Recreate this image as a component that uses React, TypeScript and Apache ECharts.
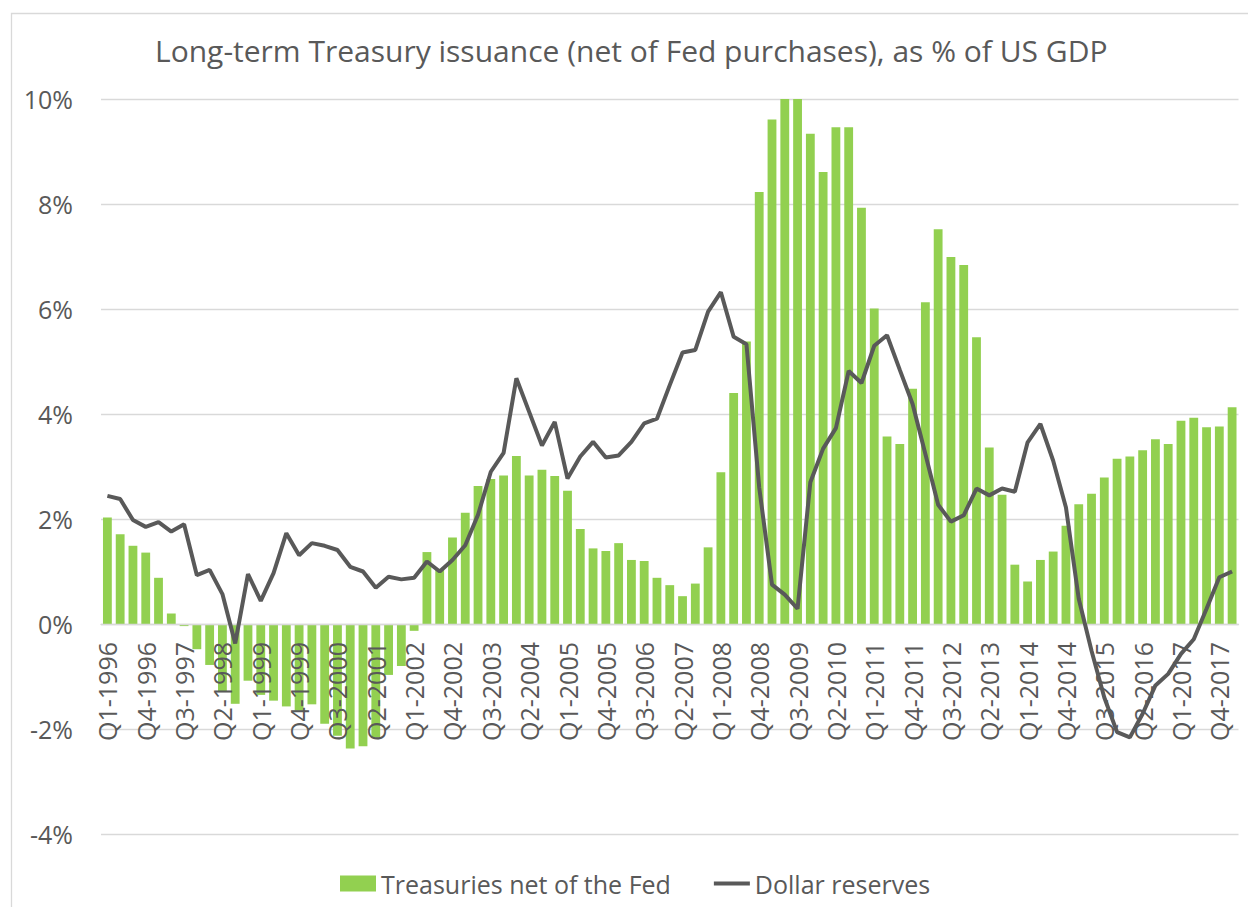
import React, { useEffect, useRef } from "react";
import * as echarts from "echarts";

const categories: string[] = [];
const years = [1996, 1997, 1998, 1999, 2000, 2001, 2002, 2003, 2004, 2005, 2006, 2007, 2008, 2009, 2010, 2011, 2012, 2013, 2014, 2015, 2016, 2017, 2018];
for (const y of years) {
  for (const q of [1, 2, 3, 4]) {
    if (y === 2018 && q > 1) break;
    categories.push(`Q${q}-${y}`);
  }
}

const treasuriesNetOfFed = [
  2.03, 1.71, 1.49, 1.36, 0.88, 0.2, -0.04, -0.48, -0.78, -1.28,
  -1.52, -1.08, -1.35, -1.46, -1.57, -1.65, -1.53, -1.9, -2.13, -2.37,
  -2.33, -2.16, -0.97, -0.8, -0.13, 1.37, 1.03, 1.65, 2.12, 2.63,
  2.76, 2.83, 3.2, 2.83, 2.94, 2.82, 2.54, 1.81, 1.44, 1.39,
  1.54, 1.22, 1.2, 0.88, 0.74, 0.53, 0.77, 1.46, 2.89, 4.4,
  5.38, 8.23, 9.61, 10.0, 10.0, 9.34, 8.61, 9.46, 9.46, 7.93,
  6.01, 3.57, 3.43, 4.48, 6.13, 7.52, 6.99, 6.84, 5.46, 3.36,
  2.46, 1.13, 0.81, 1.22, 1.38, 1.87, 2.28, 2.48, 2.79, 3.15,
  3.19, 3.31, 3.52, 3.43, 3.87, 3.93, 3.75, 3.76, 4.13,
];

const dollarReserves = [
  2.44, 2.38, 1.98, 1.85, 1.94, 1.76, 1.9, 0.93, 1.03, 0.57,
  -0.37, 0.95, 0.44, 0.97, 1.73, 1.31, 1.54, 1.49, 1.41, 1.09,
  1.0, 0.69, 0.9, 0.85, 0.88, 1.19, 1.0, 1.22, 1.5, 2.08,
  2.9, 3.26, 4.68, 4.04, 3.4, 3.85, 2.77, 3.19, 3.47, 3.17,
  3.21, 3.47, 3.82, 3.91, 4.55, 5.17, 5.22, 5.95, 6.32, 5.47,
  5.33, 2.6, 0.75, 0.56, 0.29, 2.7, 3.34, 3.73, 4.82, 4.59,
  5.3, 5.5, 4.84, 4.19, 3.24, 2.27, 1.95, 2.07, 2.58, 2.45,
  2.58, 2.52, 3.46, 3.81, 3.11, 2.22, 0.48, -0.51, -1.4, -2.06,
  -2.16, -1.71, -1.17, -0.95, -0.57, -0.29, 0.29, 0.89, 1.0,
];

const yTicks = { min: -4, max: 10, interval: 2 };
const titleText = "Long-term Treasury issuance (net of Fed purchases), as % of US GDP";
const seriesNames = ["Treasuries net of the Fed", "Dollar reserves"];

const FONT = "'Open Sans', 'Noto Sans', sans-serif";
const TEXT = "#595959";
const GRID = "#d9d9d9";
const LINE_ICON =
  "path://M0,0 L36,0 L36,0.01 L0,0.01 Z M0,6 L36,6 L36,10 L0,10 Z M0,15.99 L36,15.99 L36,16 L0,16 Z";

// plot geometry
const GRID_TOP = 99;
const GRID_BOTTOM = 73;
const CHART_H = 907;
const plotH = CHART_H - GRID_TOP - GRID_BOTTOM;
const zeroOffset = -(plotH * (0 - yTicks.min)) / (yTicks.max - yTicks.min);

export default function App() {
  const ref = useRef<HTMLDivElement>(null);
  useEffect(() => {
    if (!ref.current) return;
    const chart = echarts.init(ref.current, null, { renderer: "svg" });
    chart.setOption({
      animation: false,
      backgroundColor: "#ffffff",
      textStyle: { fontFamily: FONT },
      title: {
        text: titleText,
        left: 150,
        top: 30,
        textStyle: { fontFamily: FONT, fontSize: 30, fontWeight: "normal", color: TEXT },
      },
      graphic: [
        {
          type: "rect",
          shape: { x: 11.5, y: 13.5, width: 1300, height: 1000 },
          style: { fill: "none", stroke: GRID, lineWidth: 1.3 },
          silent: true,
        },
      ],
      legend: {
        left: 340,
        top: 871,
        padding: 0,
        itemWidth: 36,
        itemHeight: 16,
        itemGap: 43,
        textStyle: { fontFamily: FONT, fontSize: 25, color: TEXT },
        data: [
          { name: seriesNames[0], icon: "rect" },
          { name: seriesNames[1], icon: LINE_ICON },
        ],
      },
      grid: { left: 101, right: 9.5, top: GRID_TOP, bottom: GRID_BOTTOM, outerBoundsMode: "none", containLabel: false },
      xAxis: {
        type: "category",
        data: categories,
        boundaryGap: true,
        position: "bottom",
        offset: zeroOffset,
        z: 2,
        axisLine: { onZero: false, lineStyle: { color: GRID, width: 1.3 } },
        axisTick: { show: false },
        axisLabel: {
          interval: 2,
          rotate: 90,
          margin: 18,
          fontFamily: FONT,
          fontSize: 25,
          color: TEXT,
        },
        splitLine: { show: false },
      },
      yAxis: {
        type: "value",
        min: yTicks.min,
        max: yTicks.max,
        interval: yTicks.interval,
        z: 0,
        axisLine: { show: false },
        axisTick: { show: false },
        axisLabel: {
          formatter: "{value}%",
          margin: 28,
          fontFamily: FONT,
          fontSize: 25,
          color: TEXT,
        },
        splitLine: { lineStyle: { color: GRID, width: 1.3 } },
      },
      series: [
        {
          name: seriesNames[0],
          type: "bar",
          data: treasuriesNetOfFed,
          barCategoryGap: "31%",
          itemStyle: { color: "#92D050" },
          clip: true,
          z: 1,
        },
        {
          name: seriesNames[1],
          type: "line",
          data: dollarReserves,
          symbol: "none",
          lineStyle: { color: "#595959", width: 4 },
          itemStyle: { color: "#595959" },
          z: 3,
        },
      ],
    });
    return () => chart.dispose();
  }, []);
  return (
    <div
      ref={ref}
      style={{ position: "fixed", left: 0, top: 0, width: 1248, height: 907, background: "#fff" }}
    />
  );
}
